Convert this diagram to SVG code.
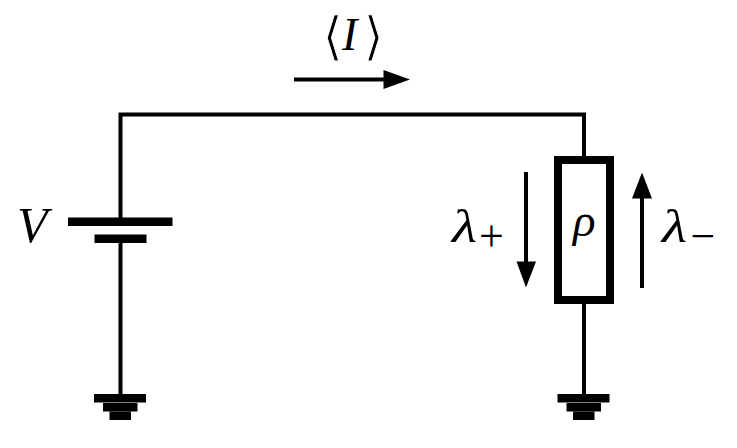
<svg xmlns="http://www.w3.org/2000/svg" width="737" height="448" viewBox="0 0 737 448">
<style>
.w{fill:none;stroke:#000;stroke-width:4}
.b{fill:#000}
.m{font-family:"Liberation Serif",serif;font-style:italic;fill:#000}
.r{font-family:"DejaVu Sans",sans-serif;font-size:52px;fill:#000;stroke:#fff;stroke-width:1;paint-order:fill stroke}
.s{font-family:"Liberation Serif",serif;font-size:44px;fill:#000}
</style>
<defs>
<g id="gnd"><rect class="b" x="-26.5" y="0" width="52" height="8.5"/><rect class="b" x="-17.5" y="9" width="34.5" height="8.5"/><rect class="b" x="-11" y="17.500" width="21.500" height="8.500"/></g>
</defs>
<g id="connectors">
<path class="w" d="M120.500 218V114.500H584V160"/>
<path class="w" d="M120.500 243V394"/>
<path class="w" d="M584 304V394"/>
</g>
<g id="current-arrow"><path class="w" d="M294 79.500H386"/><path class="b" d="M383.500 70L410 79.500L383.500 89Z"/></g>
<g id="current-label"><text class="r" x="322.500" y="54">⟨</text><text class="m" x="342" y="50" font-size="46">I</text><text class="r" x="363.500" y="54">⟩</text></g>
<g id="battery"><rect class="b" x="68" y="217.500" width="104.500" height="8.500"/><rect class="b" x="94.500" y="234.500" width="52" height="8.500"/><text class="m" x="17" y="241.500" font-size="50">V</text></g>
<g id="ground-left"><use href="#gnd" x="120.500" y="394"/></g>
<g id="ground-right"><use href="#gnd" x="584" y="394"/></g>
<g id="resistor"><rect x="558" y="160" width="52" height="140" fill="#fff" stroke="#000" stroke-width="8"/><text class="m" x="573" y="236" font-size="47">ρ</text></g>
<g id="lambda-plus"><path class="w" d="M526 172V264"/><path class="b" d="M516.500 261.500L526 287.500L536 261.500Z"/><text class="m" x="452" y="241.500" font-size="47" textLength="25" lengthAdjust="spacingAndGlyphs">λ</text><text class="s" x="479" y="250.500">+</text></g>
<g id="lambda-minus"><path class="w" d="M642 288V196"/><path class="b" d="M632 198.500L642 172.500L652 198.500Z"/><text class="m" x="662" y="241.500" font-size="47" textLength="25" lengthAdjust="spacingAndGlyphs">λ</text><text class="s" x="690.500" y="250.500">−</text></g>
</svg>
